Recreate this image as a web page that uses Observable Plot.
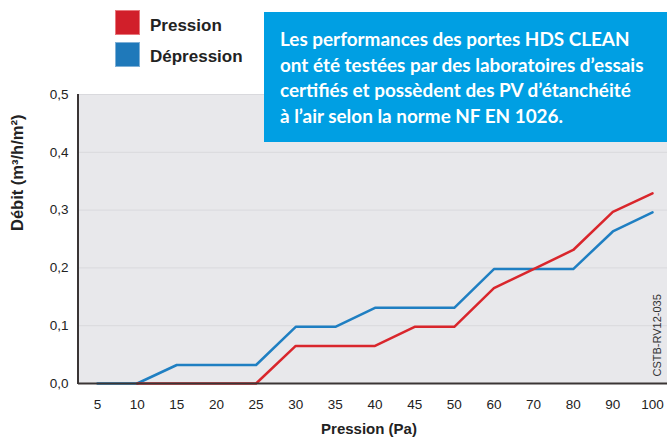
<!DOCTYPE html>
<html>
<head>
<meta charset="utf-8">
<script src="https://cdn.jsdelivr.net/npm/d3@7"></script>
<script src="https://cdn.jsdelivr.net/npm/@observablehq/plot@0.6"></script>
<style>
  html, body { margin: 0; padding: 0; background: #fff; }
  #wrap { position: relative; width: 667px; height: 441px; overflow: hidden; font-family: "Liberation Sans", Arial, sans-serif; }
  #chart { position: absolute; left: 0; top: 0; }
  .sw { position: absolute; width: 25px; height: 25px; box-sizing: border-box; }
  .lg { position: absolute; font-weight: bold; font-size: 17px; color: #222; line-height: 20px; white-space: nowrap; }
  #box { position: absolute; left: 264px; top: 12px; width: 403px; height: 130px; background: #009fe3; color: #fff;
         font-family: Lato, "Open Sans", sans-serif; font-weight: 700; font-size: 18.9px; line-height: 25.5px;
         box-sizing: border-box; padding: 14px 0 0 16px; white-space: nowrap; }
</style>
</head>
<body>
<div id="wrap">
  <div id="chart"></div>
  <div class="sw" style="left:115px;top:10px;background:#d11f2a;border:1px solid #e8777c"></div>
  <div class="lg" style="left:150px;top:16px">Pression</div>
  <div class="sw" style="left:115px;top:42px;background:#1f79ba;border:1px solid #7fb0d6"></div>
  <div class="lg" style="left:150px;top:47px">Dépression</div>
  <div id="box">Les performances des portes HDS CLEAN<br>ont été testées par des laboratoires d’essais<br>certifiés et possèdent des PV d’étanchéité<br>à l’air selon la norme NF EN 1026.</div>
</div>
<script>
const categories = ["5","10","15","20","25","30","35","40","45","50","60","70","80","90","100"];
const pression   = [null, 0, 0, 0, 0, 0.065, 0.065, 0.065, 0.098, 0.098, 0.165, 0.198, 0.231, 0.297, 0.329];
const depression = [0, 0, 0.032, 0.032, 0.032, 0.098, 0.098, 0.131, 0.131, 0.131, 0.198, 0.198, 0.198, 0.263, 0.296];
const yTicks = [0, 0.1, 0.2, 0.3, 0.4, 0.5];
const yTitle = "Débit (m³/h/m²)";
const xTitle = "Pression (Pa)";
const sourceNote = "CSTB-RV12-035";

const toRows = vals => categories.map((c, i) => ({x: c, y: vals[i]})).filter(d => d.y != null);
const fmt = d => d.toFixed(1).replace(".", ",");

// left axis line along the frame's left edge
const yAxisLine = (index, scales, values, dimensions) => {
  const {marginLeft, marginTop, marginBottom, height} = dimensions;
  return d3.create("svg:line")
    .attr("x1", marginLeft).attr("x2", marginLeft)
    .attr("y1", height - marginBottom + 1).attr("y2", marginTop)
    .attr("stroke", "#3a3535").attr("stroke-width", 2)
    .node();
};

const chart = Plot.plot({
  width: 667,
  height: 441,
  marginLeft: 78,
  marginRight: 0,
  marginTop: 94,
  marginBottom: 58,
  style: {fontFamily: "'Liberation Sans', Arial, sans-serif", fontSize: "13.5px", color: "#222", background: "white"},
  x: {type: "point", domain: categories, range: [97, 652], padding: 0, round: false, label: null, tickSize: 0, tickPadding: 16},
  y: {domain: [0, 0.5], range: [383, 94], ticks: yTicks, tickFormat: fmt, tickSize: 0, tickPadding: 10, label: null},
  marks: [
    Plot.frame({fill: "#e8e8eb", stroke: null}),
    Plot.gridY(yTicks, {stroke: "#d9d9dd", strokeOpacity: 1, strokeWidth: 1}),
    Plot.line(toRows(depression), {x: "x", y: "y", stroke: "#1f7fc2", strokeWidth: 2.5}),
    Plot.line(toRows(pression), {x: "x", y: "y", stroke: "#d9262c", strokeWidth: 2.5}),
    Plot.ruleY([0], {stroke: "#3a3535", strokeWidth: 2}),
    yAxisLine,
    Plot.text([yTitle], {frameAnchor: "left", dx: -61, dy: -8, rotate: -90, fontWeight: "bold", fontSize: 16.5, fill: "#222"}),
    Plot.text([xTitle], {frameAnchor: "bottom", dx: -4, dy: 50, fontWeight: "bold", fontSize: 15, fill: "#222"}),
    Plot.text([sourceNote], {frameAnchor: "bottom-right", dx: -7, dy: -7, rotate: -90, textAnchor: "start", fontSize: 11, fill: "#333"})
  ]
});
document.getElementById("chart").appendChild(chart);
</script>
</body>
</html>
